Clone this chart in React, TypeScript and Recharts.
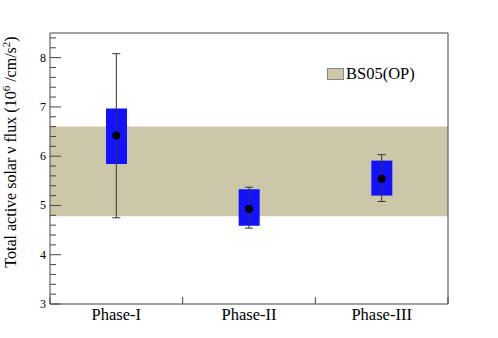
import React from 'react'
import { ComposedChart, Bar, Scatter, ErrorBar, XAxis, YAxis, ReferenceArea, ReferenceLine } from 'recharts'

const phases = ['Phase-I', 'Phase-II', 'Phase-III']
const fluxValues = [6.42, 4.93, 5.54]
const boxLow = [5.84, 4.59, 5.2]
const boxHigh = [6.97, 5.33, 5.91]
const errMinus = [1.67, 0.39, 0.46]
const errPlus = [1.66, 0.44, 0.49]
const bs05Low = 4.78
const bs05High = 6.6
const yTicks = [3, 3.2, 3.4, 3.6, 3.8, 4, 4.2, 4.4, 4.6, 4.8, 5, 5.2, 5.4, 5.6, 5.8, 6, 6.2, 6.4, 6.6, 6.8, 7, 7.2, 7.4, 7.6, 7.8, 8, 8.2, 8.4]
const xTicks = [0, 0.5, 1, 1.5, 2, 2.5, 3]

const data = phases.map((p, i) => ({
  x: i + 0.5,
  phase: p,
  value: fluxValues[i],
  box: [boxLow[i], boxHigh[i]],
  err: [errMinus[i], errPlus[i]],
}))

const FRAME = '#444'
const FONT = '"Liberation Serif", "DejaVu Serif", serif'

function YTick(props: any) {
  const { y, payload } = props
  const v = payload.value
  const major = Math.abs(v - Math.round(v)) < 1e-6
  const x0 = 50
  return (
    <g>
      <line x1={x0} x2={x0 + (major ? 11 : 6)} y1={y} y2={y} stroke={FRAME} />
      {major && (
        <text x={x0 - 4} y={y + 4} textAnchor="end" fontSize={12} fontFamily={FONT} fill="#000">
          {v}
        </text>
      )}
    </g>
  )
}

function XTick(props: any) {
  const { x, payload } = props
  const v = payload.value
  const isBoundary = Math.abs(v - Math.round(v)) < 1e-6
  if (isBoundary) {
    return <line x1={x} x2={x} y1={304} y2={297} stroke={FRAME} />
  }
  return (
    <text x={x} y={320} textAnchor="middle" fontSize={16.5} fontFamily={FONT} fill="#000">
      {phases[Math.floor(v)]}
    </text>
  )
}

function Dot(props: any) {
  const { cx, cy } = props
  return <circle cx={cx} cy={cy} r={4} fill="#000" />
}

function YLabel() {
  return (
    <text transform="translate(16,152) rotate(-90)" textAnchor="middle" fontSize={16} fontFamily={FONT} fill="#000">
      Total active solar ν flux (10
      <tspan dy={-6} fontSize={11}>6</tspan>
      <tspan dy={6}> /cm/s</tspan>
      <tspan dy={-6} fontSize={11}>2</tspan>
      <tspan dy={6}>)</tspan>
    </text>
  )
}

export default function App() {
  return (
    <div style={{ position: 'absolute', left: 0, top: 0, width: 498, height: 338, background: '#fff' }}>
      <ComposedChart width={498} height={338} data={data} margin={{ top: 33, right: 50, bottom: 0, left: 0 }}>
        <ReferenceArea y1={bs05Low} y2={bs05High} x1={0} x2={3} fill="#cdc7a9" fillOpacity={1} stroke="none" />
        <XAxis
          dataKey="x"
          type="number"
          domain={[0, 3]}
          ticks={xTicks}
          interval={0}
          height={34}
          tick={<XTick />}
          tickLine={false}
          axisLine={{ stroke: FRAME }}
        />
        <YAxis
          type="number"
          domain={[3, 8.5]}
          ticks={yTicks}
          interval={0}
          width={50}
          tick={<YTick />}
          tickLine={false}
          axisLine={{ stroke: FRAME }}
          label={<YLabel />}
        />
        <ReferenceLine y={8.5} stroke={FRAME} />
        <ReferenceLine x={3} stroke={FRAME} />
        <Bar dataKey="box" fill="#1212ff" barSize={21} isAnimationActive={false} />
        <Scatter dataKey="value" shape={<Dot />} isAnimationActive={false}>
          <ErrorBar dataKey="err" direction="y" width={4} stroke="#333" strokeWidth={1} isAnimationActive={false} />
        </Scatter>
      </ComposedChart>
      <div
        style={{
          position: 'absolute',
          left: 327,
          top: 65,
          display: 'flex',
          alignItems: 'center',
          fontFamily: FONT,
          fontSize: 16.5,
          lineHeight: '18px',
        }}
      >
        <span style={{ display: 'inline-block', width: 15, height: 10, background: '#cdc7a9', border: '1px solid #888', marginRight: 2 }} />
        <span>BS05(OP)</span>
      </div>
    </div>
  )
}
